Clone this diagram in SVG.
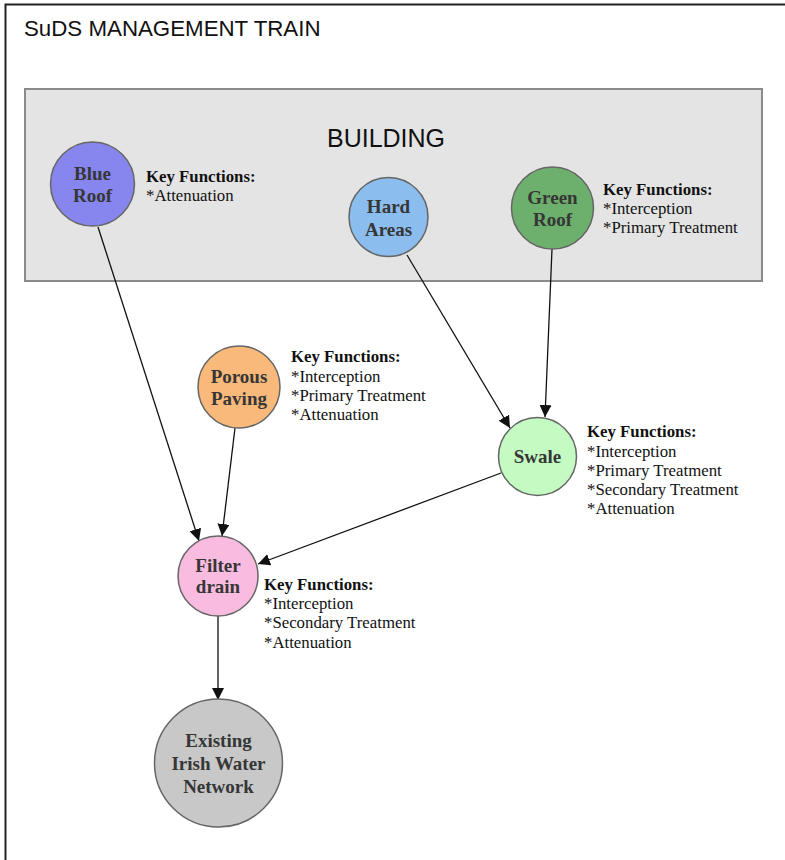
<svg xmlns="http://www.w3.org/2000/svg" width="785" height="860" viewBox="0 0 785 860">
<defs>
<style>
.node{stroke:#666;stroke-width:1.5}
.lbl{font-family:"Liberation Serif","Times New Roman",serif;font-weight:bold;font-size:19px;fill:#363636;text-anchor:middle}
.kf{font-family:"Liberation Serif","Times New Roman",serif;font-size:16.8px;fill:#111}
.kf .h{font-weight:bold}
.conn{stroke:#111;stroke-width:1.3;fill:none;marker-end:url(#arr)}
.sans{font-family:"Liberation Sans",Arial,sans-serif;fill:#111}
</style>
<marker id="arr" markerUnits="userSpaceOnUse" markerWidth="12" markerHeight="12" refX="12" refY="6" orient="auto" viewBox="0 0 12 12">
<path d="M0,0 L12,6 L0,12 z" fill="#111"/>
</marker>
</defs>
<rect x="0" y="0" width="785" height="860" fill="#fff"/>
<path d="M5.5,860 L5.5,4.5 L785,4.5" fill="none" stroke="#222" stroke-width="2"/>
<text class="sans" x="24" y="36" font-size="22.3">SuDS MANAGEMENT TRAIN</text>
<g id="building">
<rect x="25" y="89" width="737" height="192" fill="#e4e4e4" stroke="#8a8a8a" stroke-width="2"/>
<text class="sans" x="386" y="147" font-size="25" text-anchor="middle">BUILDING</text>
</g>
<g id="connectors">
<line class="conn" x1="98" y1="227" x2="199" y2="541"/>
<line class="conn" x1="235" y1="428" x2="222" y2="536"/>
<line class="conn" x1="501" y1="473" x2="258" y2="564"/>
<line class="conn" x1="407" y1="255" x2="510" y2="428"/>
<line class="conn" x1="552" y1="249" x2="545" y2="417"/>
<line class="conn" x1="218" y1="616" x2="218" y2="700"/>
</g>
<g id="blue-roof">
<circle class="node" cx="92.5" cy="184" r="42" fill="#8686ee"/>
<text class="lbl" x="92.5" y="180">Blue</text>
<text class="lbl" x="92.5" y="202">Roof</text>
<text class="kf" x="146" y="182"><tspan class="h">Key Functions:</tspan><tspan x="146" y="201">*Attenuation</tspan></text>
</g>
<g id="hard-areas">
<circle class="node" cx="388.5" cy="217" r="39.5" fill="#8bbdee"/>
<text class="lbl" x="388.5" y="213">Hard</text>
<text class="lbl" x="388.5" y="236">Areas</text>
</g>
<g id="green-roof">
<circle class="node" cx="552.5" cy="208" r="41" fill="#6daf6d"/>
<text class="lbl" x="552.5" y="204">Green</text>
<text class="lbl" x="552.5" y="226">Roof</text>
<text class="kf" x="603" y="195"><tspan class="h">Key Functions:</tspan><tspan x="603" y="214">*Interception</tspan><tspan x="603" y="233">*Primary Treatment</tspan></text>
</g>
<g id="porous-paving">
<circle class="node" cx="239" cy="387" r="41" fill="#f9b97a"/>
<text class="lbl" x="239" y="383">Porous</text>
<text class="lbl" x="239" y="405">Paving</text>
<text class="kf" x="291" y="362"><tspan class="h">Key Functions:</tspan><tspan x="291" y="382">*Interception</tspan><tspan x="291" y="401">*Primary Treatment</tspan><tspan x="291" y="420">*Attenuation</tspan></text>
</g>
<g id="swale">
<circle class="node" cx="537.5" cy="456.5" r="39" fill="#c3fbc3"/>
<text class="lbl" x="537.5" y="463">Swale</text>
<text class="kf" x="587" y="437"><tspan class="h">Key Functions:</tspan><tspan x="587" y="457">*Interception</tspan><tspan x="587" y="476">*Primary Treatment</tspan><tspan x="587" y="495">*Secondary Treatment</tspan><tspan x="587" y="514">*Attenuation</tspan></text>
</g>
<g id="filter-drain">
<circle class="node" cx="218" cy="576" r="40" fill="#f9bce0"/>
<text class="lbl" x="218" y="572">Filter</text>
<text class="lbl" x="218" y="593">drain</text>
<text class="kf" x="264" y="590"><tspan class="h">Key Functions:</tspan><tspan x="264" y="609">*Interception</tspan><tspan x="264" y="628">*Secondary Treatment</tspan><tspan x="264" y="648">*Attenuation</tspan></text>
</g>
<g id="existing-network">
<circle class="node" cx="218.5" cy="763" r="64" fill="#c8c8c8"/>
<text class="lbl" x="218.5" y="747">Existing</text>
<text class="lbl" x="218.5" y="770">Irish Water</text>
<text class="lbl" x="218.5" y="793">Network</text>
</g>
</svg>
